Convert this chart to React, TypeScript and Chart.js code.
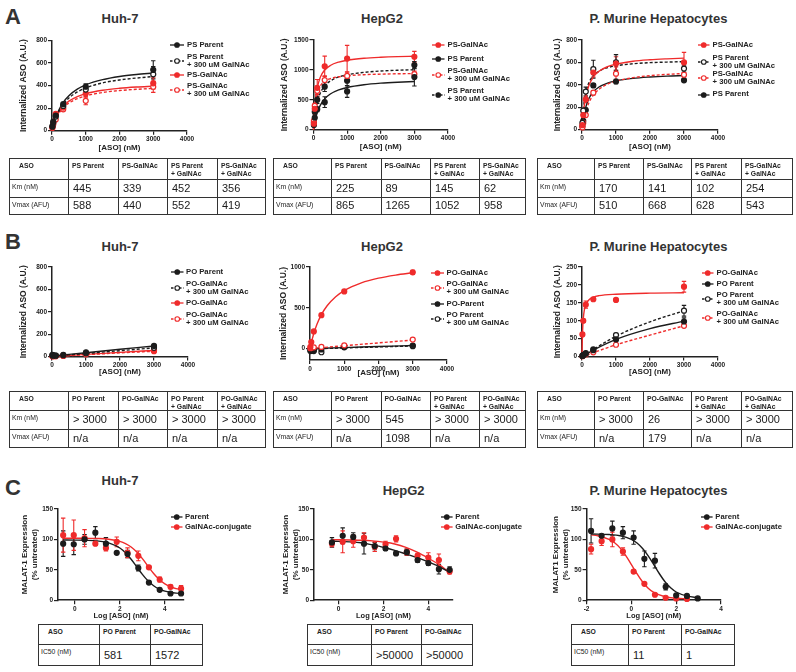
import React, { useEffect, useRef } from 'react';
import { Chart, registerables } from 'chart.js';

Chart.register(...registerables);

const RED = '#ef2b2b';
const BLK = '#1c1c1c';
const FONT = '"Liberation Sans", Arial, Helvetica, sans-serif';
const NARROW = '"Liberation Sans Narrow", "Arial Narrow", "Liberation Sans", Arial, sans-serif';

// ---------- shared axes / x values ----------
const concA = [12, 37, 111, 333, 1000, 3000];
const fitGrid = [0, 25, 50, 100, 200, 333, 500, 750, 1000, 1500, 2000, 2500, 3000];
const lineGrid = [0, 1000, 2000, 3000];
const lineGrid5 = [0, 333, 1000, 2000, 3000];
const fitGridMur = [0, 5, 10, 25, 50, 100, 200, 333, 500, 1000, 2000, 3000];
const ticksConc = [0, 1000, 2000, 3000, 4000];
const ticks800 = [0, 200, 400, 600, 800];
const ticks1500 = [0, 500, 1000, 1500];
const ticks1000 = [0, 500, 1000];
const ticks250 = [0, 50, 100, 150, 200, 250];
const ticks150 = [0, 50, 100, 150];
const ticksLog = [0, 2, 4];
const ticksLogMur = [-2, 0, 2, 4];

// ---------- legend labels ----------
const lPsParent = ['PS Parent'];
const lPsParentG = ['PS Parent', '+ 300 uM GalNAc'];
const lPsGal = ['PS-GalNAc'];
const lPsGalG = ['PS-GalNAc', '+ 300 uM GalNAc'];
const lPoParent = ['PO Parent'];
const lPoParentDash = ['PO-Parent'];
const lPoParentG = ['PO Parent', '+ 300 uM GalNAc'];
const lPoGal = ['PO-GalNAc'];
const lPoGalG = ['PO-GalNAc', '+ 300 uM GalNAc'];
const lParent = ['Parent'];
const lConj = ['GalNAc-conjugate'];

// ---------- A: Huh-7 ----------
const aHuhParent = [40, 80, 135, 235, 390, 540];
const aHuhParentErr = [6, 8, 12, 15, 25, 80];
const aHuhParentFit = [0, 31, 59, 108, 182, 252, 311, 369, 407, 453, 481, 499, 512];
const aHuhParentG = [35, 70, 125, 220, 365, 500];
const aHuhParentGErr = [5, 8, 12, 15, 40, 70];
const aHuhParentGFit = [0, 29, 55, 100, 169, 234, 290, 344, 380, 424, 450, 467, 480];
const aHuhGal = [30, 65, 150, 205, 330, 420];
const aHuhGalErr = [5, 8, 12, 15, 30, 50];
const aHuhGalFit = [0, 30, 57, 100, 163, 218, 262, 303, 329, 359, 376, 387, 395];
const aHuhGalG = [25, 55, 100, 190, 265, 390];
const aHuhGalGErr = [5, 8, 10, 15, 35, 50];
const aHuhGalGFit = [0, 28, 52, 92, 151, 203, 245, 284, 309, 339, 356, 367, 375];

// ---------- A: HepG2 ----------
const aHepGal = [100, 350, 700, 1060, 1190, 1220];
const aHepGalErr = [30, 60, 140, 170, 220, 90];
const aHepGalFit = [0, 277, 455, 669, 875, 998, 1074, 1131, 1162, 1194, 1211, 1222, 1229];
const aHepParent = [80, 200, 340, 460, 640, 880];
const aHepParentErr = [20, 30, 40, 90, 100, 150];
const aHepParentFit = [0, 87, 157, 266, 407, 516, 597, 665, 706, 752, 778, 794, 805];
const aHepGalG = [150, 400, 650, 830, 900, 930];
const aHepGalGErr = [30, 40, 60, 70, 60, 50];
const aHepGalGFit = [0, 275, 428, 591, 731, 808, 852, 885, 902, 920, 929, 935, 939];
const aHepParentG = [120, 300, 500, 720, 820, 1080];
const aHepParentGErr = [30, 40, 60, 80, 90, 60];
const aHepParentGFit = [0, 155, 270, 429, 610, 733, 815, 882, 919, 959, 981, 994, 1003];

// ---------- A: murine ----------
const aMurGal = [40, 130, 270, 510, 590, 600];
const aMurGalErr = [10, 20, 30, 40, 60, 90];
const aMurGalFit = [0, 101, 175, 277, 392, 469, 521, 562, 585, 611, 624, 632, 638];
const aMurParentG = [60, 170, 340, 540, 600, 545];
const aMurParentGErr = [10, 20, 40, 80, 70, 30];
const aMurParentGFit = [0, 124, 207, 311, 416, 481, 522, 553, 570, 588, 598, 603, 607];
const aMurGalG = [20, 60, 130, 330, 500, 490];
const aMurGalGErr = [5, 10, 15, 20, 60, 20];
const aMurGalGFit = [0, 49, 89, 153, 239, 308, 360, 406, 433, 464, 482, 493, 501];
const aMurParent = [30, 80, 175, 395, 430, 440];
const aMurParentErr = [5, 10, 15, 15, 20, 15];
const aMurParentFit = [0, 65, 116, 189, 276, 338, 381, 416, 436, 458, 470, 478, 483];

// ---------- B: Huh-7 ----------
const bHuhParent = [15, 12, 10, 15, 38, 95];
const bHuhParentErr = [3, 3, 2, 3, 5, 10];
const bHuhParentFit = [5, 35, 65, 95];
const bHuhParentG = [10, 8, 8, 12, 30, 78];
const bHuhParentGErr = [2, 2, 2, 2, 4, 8];
const bHuhParentGFit = [3, 28, 53, 78];
const bHuhGal = [5, 5, 5, 8, 25, 55];
const bHuhGalErr = [1, 1, 1, 2, 3, 5];
const bHuhGalFit = [0, 20, 38, 55];
const bHuhGalG = [3, 3, 4, 6, 20, 48];
const bHuhGalGErr = [1, 1, 1, 2, 3, 5];
const bHuhGalGFit = [0, 17, 33, 48];

// ---------- B: HepG2 ----------
const bHepGal = [20, 80, 210, 410, 700, 935];
const bHepGalErr = [5, 10, 10, 15, 15, 25];
const bHepGalFit = [0, 48, 92, 170, 295, 416, 525, 636, 711, 805, 863, 901, 929];
const bHepGalG = [5, 10, 15, 20, 40, 110];
const bHepGalGErr = [3, 3, 3, 4, 5, 8];
const bHepGalGFit = [0, 35, 70, 105];
const bHepParent = [-20, -15, -20, -10, 15, 38];
const bHepParentErr = [5, 5, 5, 5, 5, 5];
const bHepParentFit = [0, 12, 25, 37];
const bHepParentG = [-30, -25, -30, -45, 20, 30];
const bHepParentGErr = [5, 5, 5, 8, 5, 5];
const bHepParentGFit = [-5, 8, 20, 32];

// ---------- B: murine ----------
const bMurGal = [62, 100, 145, 160, 158, 195];
const bMurGalErr = [3, 5, 10, 4, 4, 15];
const bMurGalFit = [0, 29, 50, 88, 118, 142, 158, 166, 170, 174, 177, 178];
const bMurParent = [2, 4, 10, 20, 48, 98];
const bMurParentErr = [1, 1, 2, 3, 5, 10];
const bMurParentFit = [0, 18, 48, 78, 99];
const bMurParentG = [2, 4, 8, 18, 60, 128];
const bMurParentGErr = [1, 1, 2, 3, 5, 15];
const bMurParentGFit = [0, 20, 57, 97, 128];
const bMurGalG = [1, 3, 6, 12, 33, 86];
const bMurGalGErr = [1, 1, 1, 2, 3, 4];
const bMurGalGFit = [0, 11, 33, 60, 86];

// ---------- C: Huh-7 ----------
const cHuhX = [-0.52, -0.05, 0.43, 0.91, 1.38, 1.86, 2.34, 2.82, 3.29, 3.77, 4.25, 4.72];
const cHuhFitX = [-0.52, 0, 0.5, 1, 1.5, 2, 2.25, 2.5, 2.75, 3, 3.25, 3.5, 3.75, 4, 4.25, 4.5, 4.72];
const cHuhParent = [93, 92, 100, 111, 93, 78, 76, 53, 29, 17, 11, 11];
const cHuhParentErr = [21, 17, 8, 10, 10, 0, 6, 5, 2, 2, 1, 2];
const cHuhParentFit = [99, 98.8, 98.5, 97.5, 94.4, 85.8, 78, 67.4, 55, 42.5, 31.8, 23.7, 18.3, 14.8, 12.8, 11.6, 11];
const cHuhConj = [107, 107, 102, 93, 86, 96, 78, 73, 54, 34, 22, 19];
const cHuhConjErr = [28, 25, 14, 3, 5, 8, 8, 8, 3, 4, 3, 5];
const cHuhConjFit = [102, 101.9, 101.8, 101.5, 100.3, 96.8, 93.2, 87.5, 79.2, 68.4, 56, 44, 34.1, 26.9, 22.1, 19.1, 17.6];

// ---------- C: HepG2 ----------
const cHepX = [-0.3, 0.18, 0.65, 1.13, 1.61, 2.09, 2.56, 3.04, 3.52, 4.0, 4.47, 4.95];
const cHepFitX = [-0.3, 0.5, 1, 1.5, 2, 2.5, 3, 3.5, 4, 4.5, 4.95];
const cHepParent = [95, 106, 104, 93, 89, 85, 77, 79, 66, 61, 51, 50];
const cHepParentErr = [8, 13, 7, 17, 6, 3, 3, 5, 4, 4, 8, 5];
const cHepParentFit = [97, 96, 94.5, 91, 87, 82, 76, 70, 63, 55, 46];
const cHepConj = [93, 96, 97, 103, 88, 92, 101, 79, 73, 70, 66, 47];
const cHepConjErr = [5, 18, 10, 8, 8, 5, 5, 5, 4, 8, 10, 4];
const cHepConjFit = [99.5, 99, 98.5, 97.5, 95.5, 92.5, 87, 79, 69, 58, 45];

// ---------- C: murine ----------
const cMurParentX = [-1.8, -1.33, -0.85, -0.38, 0.1, 0.58, 1.05, 1.53, 2.0, 2.48, 2.96];
const cMurParent = [114, 106, 118, 111, 103, 68, 65, 22, 8, 7, 3];
const cMurParentErr = [20, 0, 12, 10, 11, 13, 12, 5, 2, 1, 1];
const cMurParentFitX = [-1.8, -1, -0.5, 0, 0.25, 0.5, 0.75, 1, 1.25, 1.5, 1.75, 2, 2.5, 2.96];
const cMurParentFit = [109, 108, 106, 100, 94, 85, 73, 58.5, 43.5, 30.3, 20.3, 13.5, 6.6, 4.3];
const cMurConjX = [-1.8, -1.33, -0.85, -0.38, 0.1, 0.58, 1.05, 1.53, 2.0, 2.48];
const cMurConj = [84, 97, 100, 80, 47, 27, 9, 4, 3, 2];
const cMurConjErr = [8, 7, 12, 6, 2, 2, 1, 1, 0, 0];
const cMurConjFitX = [-1.8, -1.5, -1, -0.75, -0.5, -0.25, 0, 0.25, 0.5, 0.75, 1, 1.5, 2, 2.48];
const cMurConjFit = [107.5, 106, 100, 94.4, 85.6, 73.3, 58.6, 43.5, 30, 19.8, 12.8, 5.7, 3.2, 2.4];

// ---------- tables ----------
const headA = ['ASO', 'PS Parent', 'PS-GalNAc', 'PS Parent\n+ GalNAc', 'PS-GalNAc\n+ GalNAc'];
const headB = ['ASO', 'PO Parent', 'PO-GalNAc', 'PO Parent\n+ GalNAc', 'PO-GalNAc\n+ GalNAc'];
const headC = ['ASO', 'PO Parent', 'PO-GalNAc'];
const kmAHuh = ['445', '339', '452', '356'];
const vmAHuh = ['588', '440', '552', '419'];
const kmAHep = ['225', '89', '145', '62'];
const vmAHep = ['865', '1265', '1052', '958'];
const kmAMur = ['170', '141', '102', '254'];
const vmAMur = ['510', '668', '628', '543'];
const kmBHuh = ['> 3000', '> 3000', '> 3000', '> 3000'];
const vmBHuh = ['n/a', 'n/a', 'n/a', 'n/a'];
const kmBHep = ['> 3000', '545', '> 3000', '> 3000'];
const vmBHep = ['n/a', '1098', 'n/a', 'n/a'];
const kmBMur = ['> 3000', '26', '> 3000', '> 3000'];
const vmBMur = ['n/a', '179', 'n/a', 'n/a'];
const icCHuh = ['581', '1572'];
const icCHep = ['>50000', '>50000'];
const icCMur = ['11', '1'];

type Series = { label: string[]; color: string; dashed: boolean; open: boolean; px: number[]; py: number[]; pe: number[]; fx: number[]; fy: number[] };
const S = (label: string[], color: string, dashed: boolean, open: boolean, px: number[], py: number[], pe: number[], fx: number[], fy: number[]): Series =>
  ({ label, color, dashed, open, px, py, pe, fx, fy });

type Panel = {
  plot: number[]; yTitleX: number; yTitle: string | string[]; yTitleSize: number;
  xTitle: string; xTitleSize: number; xMin: number; xMax: number; xTicks: number[];
  yMin: number; yMax: number; yTicks: number[]; xH: number; series: Series[];
  legendYs: number[]; glyphX: number; textX: number;
};

const Y_A = 'Internalized ASO (A.U.)';
const X_A = '[ASO] (nM)';
const X_C = 'Log [ASO] (nM)';

const panels: Panel[] = [
  {
    plot: [52, 40.5, 187, 130.5], yTitleX: 23.6, yTitle: Y_A, yTitleSize: 8.5, xTitle: X_A, xTitleSize: 8,
    xMin: 0, xMax: 4000, xTicks: ticksConc, yMin: 0, yMax: 800, yTicks: ticks800, xH: 22.3,
    series: [
      S(lPsParent, BLK, false, false, concA, aHuhParent, aHuhParentErr, fitGrid, aHuhParentFit),
      S(lPsParentG, BLK, true, true, concA, aHuhParentG, aHuhParentGErr, fitGrid, aHuhParentGFit),
      S(lPsGal, RED, false, false, concA, aHuhGal, aHuhGalErr, fitGrid, aHuhGalFit),
      S(lPsGalG, RED, true, true, concA, aHuhGalG, aHuhGalGErr, fitGrid, aHuhGalGFit),
    ],
    legendYs: [45, 61.5, 75, 90.5], glyphX: 170, textX: 187,
  },
  {
    plot: [313.5, 40, 448, 130], yTitleX: 285.3, yTitle: Y_A, yTitleSize: 8.5, xTitle: X_A, xTitleSize: 8,
    xMin: 0, xMax: 4000, xTicks: ticksConc, yMin: 0, yMax: 1500, yTicks: ticks1500, xH: 22.3,
    series: [
      S(lPsGal, RED, false, false, concA, aHepGal, aHepGalErr, fitGrid, aHepGalFit),
      S(lPsParent, BLK, false, false, concA, aHepParent, aHepParentErr, fitGrid, aHepParentFit),
      S(lPsGalG, RED, true, true, concA, aHepGalG, aHepGalGErr, fitGrid, aHepGalGFit),
      S(lPsParentG, BLK, true, false, concA, aHepParentG, aHepParentGErr, fitGrid, aHepParentGFit),
    ],
    legendYs: [45, 59, 75.2, 95.2], glyphX: 432, textX: 447.5,
  },
  {
    plot: [582, 40, 718, 130], yTitleX: 557.8, yTitle: Y_A, yTitleSize: 8.5, xTitle: X_A, xTitleSize: 8,
    xMin: 0, xMax: 4000, xTicks: ticksConc, yMin: 0, yMax: 800, yTicks: ticks800, xH: 22.3,
    series: [
      S(lPsGal, RED, false, false, concA, aMurGal, aMurGalErr, fitGrid, aMurGalFit),
      S(lPsParentG, BLK, true, true, concA, aMurParentG, aMurParentGErr, fitGrid, aMurParentGFit),
      S(lPsGalG, RED, true, true, concA, aMurGalG, aMurGalGErr, fitGrid, aMurGalGFit),
      S(lPsParent, BLK, false, false, concA, aMurParent, aMurParentErr, fitGrid, aMurParentFit),
    ],
    legendYs: [45, 62.2, 78.5, 94.6], glyphX: 698, textX: 712.5,
  },
  {
    plot: [52, 267, 187.5, 357], yTitleX: 23.6, yTitle: Y_A, yTitleSize: 8.5, xTitle: X_A, xTitleSize: 8,
    xMin: 0, xMax: 4000, xTicks: ticksConc, yMin: 0, yMax: 800, yTicks: ticks800, xH: 20.4,
    series: [
      S(lPoParent, BLK, false, false, concA, bHuhParent, bHuhParentErr, lineGrid, bHuhParentFit),
      S(lPoGalG, BLK, true, true, concA, bHuhParentG, bHuhParentGErr, lineGrid, bHuhParentGFit),
      S(lPoGal, RED, false, false, concA, bHuhGal, bHuhGalErr, lineGrid, bHuhGalFit),
      S(lPoGalG, RED, true, true, concA, bHuhGalG, bHuhGalGErr, lineGrid, bHuhGalGFit),
    ],
    legendYs: [272.3, 288.3, 302.7, 318.8], glyphX: 170.5, textX: 186,
  },
  {
    plot: [310, 267, 447, 359.5], yTitleX: 284, yTitle: Y_A, yTitleSize: 8.5, xTitle: X_A, xTitleSize: 8,
    xMin: 0, xMax: 4000, xTicks: ticksConc, yMin: -140, yMax: 1000, yTicks: ticks1000, xH: 18,
    series: [
      S(lPoGal, RED, false, false, concA, bHepGal, bHepGalErr, fitGrid, bHepGalFit),
      S(lPoGalG, RED, true, true, concA, bHepGalG, bHepGalGErr, lineGrid, bHepGalGFit),
      S(lPoParentDash, BLK, false, false, concA, bHepParent, bHepParentErr, lineGrid, bHepParentFit),
      S(lPoParentG, BLK, true, true, concA, bHepParentG, bHepParentGErr, lineGrid, bHepParentGFit),
    ],
    legendYs: [273.3, 288.5, 304.4, 319.3], glyphX: 430.5, textX: 446.5,
  },
  {
    plot: [582, 267, 718, 357], yTitleX: 558, yTitle: Y_A, yTitleSize: 8.5, xTitle: X_A, xTitleSize: 8,
    xMin: 0, xMax: 4000, xTicks: ticksConc, yMin: 0, yMax: 250, yTicks: ticks250, xH: 20.4,
    series: [
      S(lPoGal, RED, false, false, concA, bMurGal, bMurGalErr, fitGridMur, bMurGalFit),
      S(lPoParent, BLK, false, false, concA, bMurParent, bMurParentErr, lineGrid5, bMurParentFit),
      S(lPoParentG, BLK, true, true, concA, bMurParentG, bMurParentGErr, lineGrid5, bMurParentGFit),
      S(lPoGalG, RED, true, true, concA, bMurGalG, bMurGalGErr, lineGrid5, bMurGalGFit),
    ],
    legendYs: [273.3, 284.1, 298.8, 317.9], glyphX: 702, textX: 716.5,
  },
  {
    plot: [58, 509, 184, 600], yTitleX: 24.3, yTitle: ['MALAT-1 Expression', '(% untreated)'], yTitleSize: 8,
    xTitle: X_C, xTitleSize: 7.5, xMin: -0.75, xMax: 4.85, xTicks: ticksLog, yMin: 0, yMax: 150, yTicks: ticks150, xH: 19.8,
    series: [
      S(lParent, BLK, false, false, cHuhX, cHuhParent, cHuhParentErr, cHuhFitX, cHuhParentFit),
      S(lConj, RED, false, false, cHuhX, cHuhConj, cHuhConjErr, cHuhFitX, cHuhConjFit),
    ],
    legendYs: [516.8, 527], glyphX: 170.5, textX: 185,
  },
  {
    plot: [314, 509, 452.6, 600], yTitleX: 285.3, yTitle: ['MALAT-1 Expression', '(% untreated)'], yTitleSize: 8,
    xTitle: X_C, xTitleSize: 7.5, xMin: -1.1, xMax: 5.1, xTicks: ticksLog, yMin: 0, yMax: 150, yTicks: ticks150, xH: 19.8,
    series: [
      S(lParent, BLK, false, false, cHepX, cHepParent, cHepParentErr, cHepFitX, cHepParentFit),
      S(lConj, RED, false, false, cHepX, cHepConj, cHepConjErr, cHepFitX, cHepConjFit),
    ],
    legendYs: [516.8, 527], glyphX: 440.7, textX: 455.3,
  },
  {
    plot: [586.6, 509, 721.4, 600], yTitleX: 555.5, yTitle: ['MALAT1 Expression', '(% untreated)'], yTitleSize: 8,
    xTitle: X_C, xTitleSize: 7.5, xMin: -2, xMax: 4, xTicks: ticksLogMur, yMin: 0, yMax: 150, yTicks: ticks150, xH: 19.8,
    series: [
      S(lParent, BLK, false, false, cMurParentX, cMurParent, cMurParentErr, cMurParentFitX, cMurParentFit),
      S(lConj, RED, false, false, cMurConjX, cMurConj, cMurConjErr, cMurConjFitX, cMurConjFit),
    ],
    legendYs: [516.8, 527], glyphX: 700.7, textX: 715.3,
  },
];

const errorBarPlugin = {
  id: 'errbars',
  beforeDatasetsDraw(chart: any) {
    const ctx = chart.ctx;
    const ys = chart.scales.y;
    chart.data.datasets.forEach((ds: any, di: number) => {
      if (!ds.errs) return;
      const meta = chart.getDatasetMeta(di);
      ctx.save();
      ctx.strokeStyle = ds.borderColor;
      ctx.lineWidth = 1.1;
      meta.data.forEach((el: any, i: number) => {
        const e = ds.errs[i];
        if (!e) return;
        const v = ds.data[i].y;
        const y1 = ys.getPixelForValue(v + e);
        const y2 = ys.getPixelForValue(v - e);
        const x = el.x;
        ctx.beginPath();
        ctx.moveTo(x, y1); ctx.lineTo(x, y2);
        ctx.moveTo(x - 2.2, y1); ctx.lineTo(x + 2.2, y1);
        ctx.moveTo(x - 2.2, y2); ctx.lineTo(x + 2.2, y2);
        ctx.stroke();
      });
      ctx.restore();
    });
  },
};

function PlotCanvas({ p }: { p: Panel }) {
  const ref = useRef<HTMLCanvasElement | null>(null);
  const lh = p.yTitleSize * 1.2;
  const cl = Math.round(p.yTitleX - lh / 2);
  const yW = p.plot[0] - cl;
  const top = Math.round(p.plot[1] - 8);
  const padTop = p.plot[1] - top;
  const padRight = 14;
  const w = Math.round(p.plot[2] - cl + padRight);
  const h = Math.round(padTop + p.plot[3] - p.plot[1] + p.xH);
  useEffect(() => {
    const canvas = ref.current;
    if (!canvas) return;
    const datasets: any[] = [];
    p.series.forEach((s) => {
      datasets.push({
        type: 'line', data: s.fx.map((x, i) => ({ x, y: s.fy[i] })), borderColor: s.color, backgroundColor: s.color,
        borderWidth: 1.4, borderDash: s.dashed ? [3, 2] : [], pointRadius: 0, cubicInterpolationMode: 'monotone',
        fill: false, clip: false, order: 2,
      });
      datasets.push({
        type: 'scatter', data: s.px.map((x, i) => ({ x, y: s.py[i] })), errs: s.pe, borderColor: s.color,
        backgroundColor: s.open ? '#ffffff' : s.color, pointBackgroundColor: s.open ? '#ffffff' : s.color,
        pointBorderColor: s.color, pointRadius: 2.5, pointBorderWidth: 1.2, showLine: false, clip: false, order: 1,
      });
    });
    const tickFont = { family: FONT, size: 6.5, weight: 'bold' as const };
    const grid = { drawOnChartArea: false, drawTicks: true, tickLength: 4, color: '#222', lineWidth: 1.2 };
    const border = { display: true, color: '#222', width: 1.5 };
    const chart = new Chart(canvas, {
      type: 'scatter',
      data: { datasets },
      options: {
        animation: false, responsive: false, maintainAspectRatio: false, devicePixelRatio: 1, events: [],
        layout: { padding: { left: 0, top: padTop, right: padRight, bottom: 0 } },
        plugins: { legend: { display: false }, tooltip: { enabled: false } },
        scales: {
          x: {
            type: 'linear', min: p.xMin, max: p.xMax,
            afterBuildTicks: (sc: any) => { sc.ticks = p.xTicks.map((v) => ({ value: v })); },
            afterFit: (sc: any) => { sc.height = p.xH; },
            ticks: { font: tickFont, color: '#222', padding: 1, maxRotation: 0, autoSkip: false, callback: (v: any) => String(v) },
            grid, border,
            title: { display: true, text: p.xTitle, color: '#222', padding: 0, font: { family: FONT, size: p.xTitleSize, weight: 'bold' } },
          },
          y: {
            type: 'linear', min: p.yMin, max: p.yMax,
            afterBuildTicks: (sc: any) => { sc.ticks = p.yTicks.map((v) => ({ value: v })); },
            afterFit: (sc: any) => { sc.width = yW; },
            ticks: { font: tickFont, color: '#222', padding: 1, autoSkip: false, callback: (v: any) => String(v) },
            grid, border,
            title: { display: true, text: p.yTitle, color: '#222', padding: 0, font: { family: FONT, size: p.yTitleSize, weight: 'bold' } },
          },
        },
      } as any,
      plugins: [errorBarPlugin],
    });
    return () => chart.destroy();
  }, []);
  return <canvas ref={ref} width={w} height={h} style={{ position: 'absolute', left: cl, top, width: w, height: h }} />;
}

function Legend({ p }: { p: Panel }) {
  const lh = 8.3;
  const gw = p.textX - p.glyphX;
  const lw = gw - 3;
  return (
    <>
      {p.series.map((s, i) => {
        const hgt = s.label.length * lh;
        return (
          <div key={i} style={{ position: 'absolute', left: p.glyphX, top: p.legendYs[i] - hgt / 2, height: hgt, display: 'flex', alignItems: 'center' }}>
            <svg width={gw} height={8} style={{ display: 'block', flex: 'none' }}>
              <line x1={0} y1={4} x2={lw} y2={4} stroke={s.color} strokeWidth={1.3} strokeDasharray={s.dashed ? '2.5 1.5' : undefined} />
              <circle cx={lw / 2} cy={4} r={2.3} fill={s.open ? '#fff' : s.color} stroke={s.color} strokeWidth={1.1} />
            </svg>
            <div style={{ font: `bold 7.7px ${FONT}`, lineHeight: `${lh}px`, color: '#222', whiteSpace: 'nowrap' }}>
              {s.label.map((t, j) => <div key={j}>{t}</div>)}
            </div>
          </div>
        );
      })}
    </>
  );
}

type Row = { label: string; values: string[] };
function KinTable({ left, top, cols, rowsH, head, rows }: { left: number; top: number; cols: number[]; rowsH: number[]; head: string[]; rows: Row[] }) {
  const W = cols.reduce((a, b) => a + b, 0);
  const cell: React.CSSProperties = { border: '1px solid #333', padding: 0, boxSizing: 'border-box', overflow: 'hidden' };
  return (
    <table style={{ position: 'absolute', left, top, width: W, height: rowsH.reduce((a, b) => a + b, 0), borderCollapse: 'collapse', tableLayout: 'fixed', border: '1.5px solid #333' }}>
      <colgroup>{cols.map((c, i) => <col key={i} style={{ width: c }} />)}</colgroup>
      <tbody>
        <tr style={{ height: rowsH[0] }}>
          {head.map((hd, i) => (
            <td key={i} style={{ ...cell, verticalAlign: 'top', paddingTop: 3, paddingLeft: i === 0 ? 9 : 3, font: `bold 6.8px ${NARROW}`, lineHeight: '7.6px', color: '#222' }}>
              {hd.split('\n').map((t, j) => <div key={j}>{t}</div>)}
            </td>
          ))}
        </tr>
        {rows.map((r, ri) => (
          <tr key={ri} style={{ height: rowsH[ri + 1] }}>
            <td style={{ ...cell, verticalAlign: 'top', paddingTop: 3, paddingLeft: 2, font: `6.8px ${NARROW}`, lineHeight: '7.6px', color: '#222' }}>{r.label}</td>
            {r.values.map((v, vi) => (
              <td key={vi} style={{ ...cell, verticalAlign: 'middle', paddingLeft: 4, font: `11px ${NARROW}`, lineHeight: '11px', color: '#1a1a1a', whiteSpace: 'nowrap' }}>{v}</td>
            ))}
          </tr>
        ))}
      </tbody>
    </table>
  );
}

const titleStyle = (cx: number, cy: number): React.CSSProperties => ({
  position: 'absolute', left: cx - 100, top: cy - 6.5, width: 200, textAlign: 'center',
  font: `bold 13px ${FONT}`, lineHeight: '13px', color: '#333', whiteSpace: 'nowrap',
});
const letterStyle = (top: number): React.CSSProperties => ({
  position: 'absolute', left: 5, top, font: `bold 22px ${FONT}`, lineHeight: '22px', color: '#333',
});

export default function App() {
  const rowsA = (km: string[], vm: string[]): Row[] => [{ label: 'Km (nM)', values: km }, { label: 'Vmax (AFU)', values: vm }];
  return (
    <div style={{ position: 'absolute', left: 0, top: 0, width: 796, height: 672, background: '#fff', overflow: 'hidden' }}>
      <div style={letterStyle(5.5)}>A</div>
      <div style={letterStyle(230.5)}>B</div>
      <div style={letterStyle(477.4)}>C</div>

      <div style={titleStyle(120, 18.6)}>Huh-7</div>
      <div style={titleStyle(382, 18.6)}>HepG2</div>
      <div style={titleStyle(658.5, 18.6)}>P. Murine Hepatocytes</div>
      <div style={titleStyle(120, 246)}>Huh-7</div>
      <div style={titleStyle(382, 246)}>HepG2</div>
      <div style={titleStyle(658.5, 246)}>P. Murine Hepatocytes</div>
      <div style={titleStyle(120, 480)}>Huh-7</div>
      <div style={titleStyle(403.6, 490.5)}>HepG2</div>
      <div style={titleStyle(658.5, 490.5)}>P. Murine Hepatocytes</div>

      {panels.map((p, i) => <PlotCanvas key={'c' + i} p={p} />)}
      {panels.map((p, i) => <Legend key={'l' + i} p={p} />)}

      <KinTable left={9} top={158} cols={[59, 50, 49, 50, 48]} rowsH={[20.5, 18, 17.5]} head={headA} rows={rowsA(kmAHuh, vmAHuh)} />
      <KinTable left={273} top={158} cols={[58, 49.5, 49.5, 49, 46]} rowsH={[20.5, 18, 17.5]} head={headA} rows={rowsA(kmAHep, vmAHep)} />
      <KinTable left={537} top={158} cols={[57, 49, 48, 50, 51]} rowsH={[20.5, 18, 17.5]} head={headA} rows={rowsA(kmAMur, vmAMur)} />

      <KinTable left={9} top={391} cols={[59, 50, 49, 50, 48]} rowsH={[17.5, 18.5, 18]} head={headB} rows={rowsA(kmBHuh, vmBHuh)} />
      <KinTable left={273} top={391} cols={[58, 49.5, 49.5, 49, 46]} rowsH={[17.5, 18.5, 18]} head={headB} rows={rowsA(kmBHep, vmBHep)} />
      <KinTable left={537} top={391} cols={[57, 49, 48, 50, 51]} rowsH={[17.5, 18.5, 18]} head={headB} rows={rowsA(kmBMur, vmBMur)} />

      <KinTable left={38} top={624} cols={[61, 51, 52]} rowsH={[20, 21]} head={headC} rows={[{ label: 'IC50 (nM)', values: icCHuh }]} />
      <KinTable left={307} top={624} cols={[64, 50, 51]} rowsH={[20, 21]} head={headC} rows={[{ label: 'IC50 (nM)', values: icCHep }]} />
      <KinTable left={571} top={624} cols={[57, 53, 53]} rowsH={[20, 21]} head={headC} rows={[{ label: 'IC50 (nM)', values: icCMur }]} />
    </div>
  );
}
